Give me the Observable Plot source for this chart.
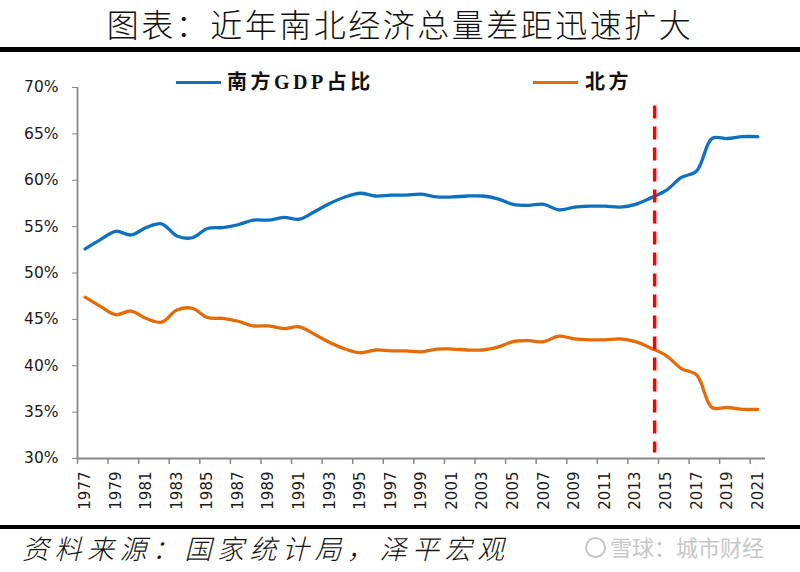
<!DOCTYPE html>
<html><head><meta charset="utf-8">
<script src="https://cdn.jsdelivr.net/npm/d3@7"></script>
<script src="https://cdn.jsdelivr.net/npm/@observablehq/plot@0.6"></script>
<style>
body{margin:0;width:800px;height:572px;position:relative;background:#fff;overflow:hidden;font-family:"Noto Sans CJK SC",sans-serif}
#title{position:absolute;left:0;top:0;width:800px;text-align:center;font-size:32px;letter-spacing:2.5px;line-height:46px;font-weight:300;color:#111;white-space:nowrap}
.bar{position:absolute;left:0;width:800px;background:#000}
#chart{position:absolute;left:0;top:52px}
.lg-line{position:absolute;height:3.5px}
.lg-text{position:absolute;font-family:"Liberation Serif","Noto Sans CJK SC",serif;font-weight:bold;font-size:20px;letter-spacing:3.5px;line-height:22px;color:#111;white-space:nowrap}
#footer{position:absolute;left:22px;top:530px;font-size:27px;font-style:italic;font-weight:300;letter-spacing:5.5px;line-height:36px;color:#111;white-space:nowrap}
#wm{position:absolute;left:585px;top:531px;font-size:22px;line-height:30px;color:#c6c6c6;white-space:nowrap}
#wm span.ic{display:inline-block;width:17px;height:17px;border:2px solid #c6c6c6;border-radius:50%;vertical-align:-2px;margin-right:4px}
</style>
</head>
<body>
<div id="title">图表：近年南北经济总量差距迅速扩大</div>
<div class="bar" style="top:47px;height:5px"></div>
<div id="chart"></div>
<div class="lg-line" style="left:176px;top:80.5px;width:45px;background:#1070c0"></div>
<div class="lg-text" style="left:227px;top:71px">南方GDP占比</div>
<div class="lg-line" style="left:533px;top:80.5px;width:45px;background:#e36c09"></div>
<div class="lg-text" style="left:585px;top:71px">北方</div>
<div class="bar" style="top:525px;height:4px"></div>
<div id="footer">资料来源：国家统计局，泽平宏观</div>
<div id="wm"><span class="ic"></span>雪球：城市财经</div>
<script>
const years = [1977,1978,1979,1980,1981,1982,1983,1984,1985,1986,1987,1988,1989,1990,1991,1992,1993,1994,1995,1996,1997,1998,1999,2000,2001,2002,2003,2004,2005,2006,2007,2008,2009,2010,2011,2012,2013,2014,2015,2016,2017,2018,2019,2020,2021];
const south = [52.6,53.6,54.5,54.1,54.9,55.3,54.0,53.8,54.8,54.9,55.2,55.7,55.7,56.0,55.8,56.6,57.5,58.2,58.6,58.3,58.4,58.4,58.5,58.2,58.2,58.3,58.3,58.0,57.4,57.3,57.4,56.8,57.1,57.2,57.2,57.1,57.4,58.1,58.9,60.3,61.0,64.5,64.5,64.7,64.7];
const north = [47.4,46.4,45.5,45.9,45.1,44.7,46.0,46.2,45.2,45.1,44.8,44.3,44.3,44.0,44.2,43.4,42.5,41.8,41.4,41.7,41.6,41.6,41.5,41.8,41.8,41.7,41.7,42.0,42.6,42.7,42.6,43.2,42.9,42.8,42.8,42.9,42.6,41.9,41.1,39.7,39.0,35.5,35.5,35.3,35.3];
const yTicks = [30,35,40,45,50,55,60,65,70];
const yearLabels = [1977,1979,1981,1983,1985,1987,1989,1991,1993,1995,1997,1999,2001,2003,2005,2007,2009,2011,2013,2015,2017,2019,2021];
const divider = [2014.25];

const data = years.map((y, i) => ({year: y, south: south[i], north: north[i]}));
const tickBounds = yearLabels.map(y => y - 0.5);

const chart = Plot.plot({
  width: 800, height: 472,
  marginLeft: 77, marginRight: 35, marginTop: 35, marginBottom: 66,
  x: {domain: [1976.5, 2021.5]},
  y: {domain: [30, 70]},
  style: {fontFamily: "'DejaVu Sans', Verdana, sans-serif", fontSize: "15px", color: "#1a1a1a", background: "transparent", overflow: "visible"},
  marks: [
    Plot.axisY({ticks: yTicks, tickFormat: d => d + "%", tickSize: 5, tickPadding: 14, fontSize: 15.5, stroke: "#888", label: null}),
    Plot.axisX({ticks: yearLabels, tickSize: 0, tickRotate: -90, tickPadding: 13, tickFormat: d => String(d), fontSize: 15, label: null}),
    Plot.axisX({ticks: tickBounds, tickSize: 6, tickFormat: () => "", stroke: "#888", strokeWidth: 1.5, label: null}),
    Plot.ruleX([1976.5], {stroke: "#888", strokeWidth: 1.8}),
    Plot.ruleY([30], {stroke: "#888", strokeWidth: 1.8}),
    Plot.line(data, {x: "year", y: "south", stroke: "#1070c0", strokeWidth: 3.3, curve: "catmull-rom"}),
    Plot.line(data, {x: "year", y: "north", stroke: "#e36c09", strokeWidth: 3.3, curve: "catmull-rom"}),
    Plot.ruleX(divider, {y1: 68, y2: 30.6, stroke: "#ff0000", strokeWidth: 3.5, strokeDasharray: "13,8"})
  ]
});
document.getElementById("chart").appendChild(chart);
</script>
</body></html>
